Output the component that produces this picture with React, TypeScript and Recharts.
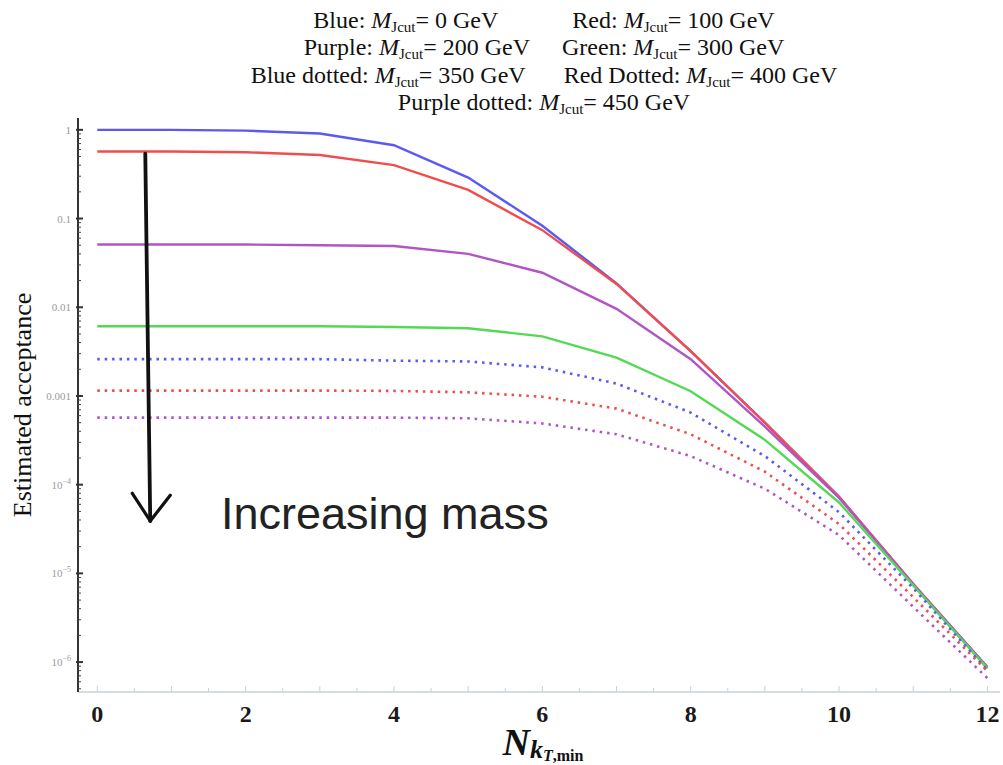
import React from "react";
import { LineChart, Line, XAxis, YAxis, ReferenceLine } from "recharts";

// N_kT,min values on the x axis
const nkt = [0, 1, 2, 3, 4, 5, 6, 7, 8, 9, 10, 11, 12];

// estimated acceptance, one list per M_Jcut
const blue0 = [1.0, 1.0, 0.98, 0.91, 0.67, 0.29, 0.083, 0.0186, 0.0032, 0.0005, 7.3e-5, 7.6e-6, 8.8e-7];
const red100 = [0.57, 0.57, 0.56, 0.52, 0.4, 0.21, 0.074, 0.0183, 0.0032, 0.0005, 7.3e-5, 7.6e-6, 8.7e-7];
const purple200 = [0.051, 0.051, 0.051, 0.05, 0.049, 0.04, 0.0245, 0.0096, 0.0026, 0.00045, 7.1e-5, 7.5e-6, 8.6e-7];
const green300 = [0.0061, 0.0061, 0.0061, 0.0061, 0.006, 0.0058, 0.0047, 0.0027, 0.00113, 0.00032, 6.3e-5, 7.3e-6, 8.5e-7];
const blue350 = [0.0026, 0.0026, 0.0026, 0.0026, 0.0025, 0.00245, 0.0021, 0.00138, 0.00065, 0.00021, 4.9e-5, 6.8e-6, 8.1e-7];
const red400 = [0.00115, 0.00115, 0.00115, 0.00115, 0.00114, 0.0011, 0.00098, 0.00072, 0.00037, 0.00014, 3.6e-5, 5.4e-6, 7.9e-7];
const purple450 = [0.00057, 0.00057, 0.00057, 0.00057, 0.00057, 0.00056, 0.00049, 0.00037, 0.00021, 9e-5, 2.7e-5, 4.2e-6, 6.6e-7];

// axis ticks
const xLabelTicks = [0, 2, 4, 6, 8, 10, 12];
const xAllTicks = [0, 0.5, 1, 1.5, 2, 2.5, 3, 3.5, 4, 4.5, 5, 5.5, 6, 6.5, 7, 7.5, 8, 8.5, 9, 9.5, 10, 10.5, 11, 11.5, 12];
const yMajorTicks = [1e-6, 1e-5, 1e-4, 1e-3, 1e-2, 0.1, 1];
const yMajorLabels = ["10|-6", "10|-5", "10|-4", "0.001", "0.01", "0.1", "1"];
const yMinorSteps = [2, 3, 4, 5, 6, 7, 8, 9];

// title: [colour name, mass] pairs, two per row
const titleRows = [
  [["Blue", "0"], ["Red", "100"]],
  [["Purple", "200"], ["Green", "300"]],
  [["Blue dotted", "350"], ["Red Dotted", "400"]],
  [["Purple dotted", "450"]],
];
const titleGaps = [74, 32, 38, 0];

// hand drawn arrow (x, acceptance)
const arrowShaft = [{ x: 0.647, y: 0.54 }, { x: 0.714, y: 3.9e-5 }];
const arrowLeft = [{ x: 0.472, y: 8.0e-5 }, { x: 0.714, y: 3.9e-5 }];
const arrowRight = [{ x: 0.984, y: 7.6e-5 }, { x: 0.714, y: 3.9e-5 }];

const BLUE = "#5a5af2";
const RED = "#f04d4d";
const PURPLE = "#b155c6";
const GREEN = "#55d955";
const FRAME = "#c9d1da";
const SERIF = "'Liberation Serif', 'Times New Roman', serif";

const Y_MIN = 4.6e-7;
const Y_MAX = 1.36;

const series = [
  { key: "b0", values: blue0, color: BLUE, dotted: false },
  { key: "r100", values: red100, color: RED, dotted: false },
  { key: "p200", values: purple200, color: PURPLE, dotted: false },
  { key: "g300", values: green300, color: GREEN, dotted: false },
  { key: "b350", values: blue350, color: BLUE, dotted: true },
  { key: "r400", values: red400, color: RED, dotted: true },
  { key: "p450", values: purple450, color: PURPLE, dotted: true },
];

const data = nkt.map((n, i) => {
  const row: Record<string, number> = { n };
  series.forEach((s) => (row[s.key] = s.values[i]));
  return row;
});

const yTicks: number[] = [];
yMajorTicks.forEach((m) => {
  yTicks.push(m);
  yMinorSteps.forEach((k) => {
    const v = m * k;
    if (v < Y_MAX) yTicks.push(v);
  });
});
yMinorSteps.forEach((k) => {
  const v = 1e-7 * k;
  if (v > Y_MIN) yTicks.push(v);
});
yTicks.sort((a, b) => a - b);

function isMajor(v: number) {
  return yMajorTicks.some((m) => Math.abs(m - v) / m < 1e-6);
}

function LeftTick(props: any) {
  const { x, y, payload } = props;
  const v = payload.value;
  if (!isMajor(v)) {
    return <line x1={x} x2={x + 3} y1={y} y2={y} stroke="#444" strokeWidth={1} />;
  }
  const label = yMajorLabels[yMajorTicks.findIndex((m) => Math.abs(m - v) / m < 1e-6)];
  const parts = label.split("|");
  return (
    <g>
      <line x1={x - 2} x2={x + 5} y1={y} y2={y} stroke="#333" strokeWidth={2} />
      <text x={x - 7} y={y + 4} textAnchor="end" fontFamily={SERIF} fontSize={11} fill="#9a9a9a">
        {parts[0]}
        {parts.length > 1 && (
          <tspan fontSize={8} dy={-5}>
            {"\u2212" + parts[1].replace("-", "")}
          </tspan>
        )}
      </text>
    </g>
  );
}

function RightTick(props: any) {
  const { x, y, payload } = props;
  const len = isMajor(payload.value) ? 5 : 3;
  return <line x1={x} x2={x - len} y1={y} y2={y} stroke={FRAME} strokeWidth={1} />;
}

function BottomTick(props: any) {
  const { x, y, payload } = props;
  const v = payload.value;
  const len = Number.isInteger(v) ? 6 : 4;
  return (
    <g>
      <line x1={x} x2={x} y1={y} y2={y - len} stroke={FRAME} strokeWidth={1} />
      {xLabelTicks.includes(v) && (
        <text x={x} y={y + 30} textAnchor="middle" fontFamily={SERIF} fontWeight="bold" fontSize={24} fill="#1a1a1a">
          {v}
        </text>
      )}
    </g>
  );
}

function TopTick(props: any) {
  const { x, y, payload } = props;
  const len = Number.isInteger(payload.value) ? 6 : 4;
  return <line x1={x} x2={x} y1={y} y2={y + len} stroke={FRAME} strokeWidth={1} />;
}

function Entry({ name, mass, dx }: { name: string; mass: string; dx?: number }) {
  return (
    <>
      <tspan dx={dx}>{name + ": "}</tspan>
      <tspan fontStyle="italic">M</tspan>
      <tspan fontSize={15} dy={4}>Jcut</tspan>
      <tspan dy={-4}>{"= " + mass + " GeV"}</tspan>
    </>
  );
}

export default function App() {
  return (
    <div style={{ position: "absolute", left: 0, top: 0, width: 1003, height: 765, background: "#fff" }}>
      <LineChart
        width={1003}
        height={765}
        data={data}
        margin={{ top: 118, right: 3, left: 8, bottom: 33 }}
      >
        <XAxis
          xAxisId="b"
          dataKey="n"
          type="number"
          domain={[-0.26, 12.17]}
          allowDataOverflow
          ticks={xAllTicks}
          interval={0}
          tick={<BottomTick />}
          tickLine={false}
          tickSize={0}
          tickMargin={0}
          height={40}
          axisLine={{ stroke: FRAME, strokeWidth: 1.5 }}
        />
        <XAxis
          xAxisId="t"
          orientation="top"
          dataKey="n"
          type="number"
          domain={[-0.26, 12.17]}
          allowDataOverflow
          ticks={xAllTicks}
          interval={0}
          tick={<TopTick />}
          tickLine={false}
          tickSize={0}
          tickMargin={0}
          height={0}
          axisLine={{ stroke: FRAME, strokeWidth: 1.5 }}
        />
        <YAxis
          yAxisId="l"
          scale="log"
          type="number"
          domain={[Y_MIN, Y_MAX]}
          allowDataOverflow
          ticks={yTicks}
          interval={0}
          tick={<LeftTick />}
          tickLine={false}
          tickSize={0}
          tickMargin={0}
          width={70}
          axisLine={{ stroke: "#333", strokeWidth: 2 }}
        />
        <YAxis
          yAxisId="r"
          orientation="right"
          scale="log"
          type="number"
          domain={[Y_MIN, Y_MAX]}
          allowDataOverflow
          ticks={yTicks}
          interval={0}
          tick={<RightTick />}
          tickLine={false}
          tickSize={0}
          tickMargin={0}
          width={0}
          axisLine={{ stroke: FRAME, strokeWidth: 1.5 }}
        />
        {series.map((s) => (
          <Line
            key={s.key}
            xAxisId="b"
            yAxisId="l"
            dataKey={s.key}
            stroke={s.color}
            strokeWidth={s.dotted ? 2.6 : 2.4}
            strokeDasharray={s.dotted ? "2.5 4.9" : undefined}
            dot={false}
            type="linear"
            isAnimationActive={false}
          />
        ))}
        {[arrowShaft, arrowLeft, arrowRight].map((seg, i) => (
          <ReferenceLine
            key={i}
            xAxisId="b"
            yAxisId="l"
            segment={seg}
            stroke="#111"
            strokeWidth={i === 0 ? 3.8 : 3.2}
            strokeLinecap="round"
            ifOverflow="visible"
          />
        ))}
      </LineChart>
      <svg
        width={1003}
        height={765}
        style={{ position: "absolute", left: 0, top: 0, pointerEvents: "none" }}
      >
        {titleRows.map((row, i) => (
          <text
            key={i}
            x={544}
            y={27.5 + i * 27.5}
            textAnchor="middle"
            fontFamily={SERIF}
            fontSize={24}
            fill="#111"
          >
            <Entry name={row[0][0]} mass={row[0][1]} />
            {row[1] && <Entry name={row[1][0]} mass={row[1][1]} dx={titleGaps[i]} />}
          </text>
        ))}
        <text
          transform="translate(31 405) rotate(-90)"
          textAnchor="middle"
          fontFamily={SERIF}
          fontSize={26}
          fill="#111"
        >
          Estimated acceptance
        </text>
        <text x={543} y={755} textAnchor="middle" fontFamily={SERIF} fontWeight="bold" fontStyle="italic" fontSize={38} fill="#111">
          N
          <tspan fontSize={26} dy={3}>k</tspan>
          <tspan fontSize={16} dy={3}>T</tspan>
          <tspan fontSize={16} fontStyle="normal">,min</tspan>
        </text>
        <text x={221} y={529} fontFamily="'Liberation Sans', Arial, sans-serif" fontWeight={300} fontSize={45} fill="#222">
          Increasing mass
        </text>
      </svg>
    </div>
  );
}
